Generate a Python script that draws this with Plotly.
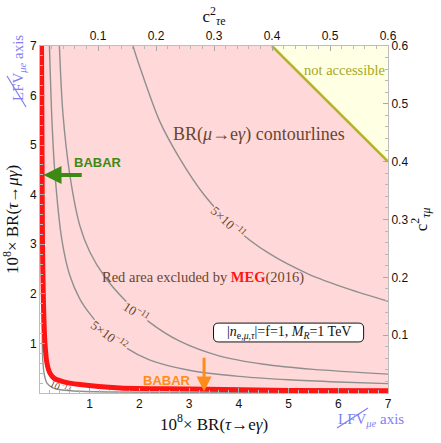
import plotly.graph_objects as go

# ---------------- data ----------------
# BR(mu->e gamma) contour lines, in units of 1e-8 BR(tau->e gamma) / 1e-8 BR(tau->mu gamma)
c5e11_x = [1.87, 2.0, 2.4, 2.8, 3.3, 3.9, 4.6, 5.4, 6.2, 7.0]
c5e11_y = [7.0, 6.6, 5.5, 4.75, 4.0, 3.35, 2.82, 2.4, 2.1, 1.85]

c1e11_x = [0.39, 0.46, 0.6, 0.8, 1.0, 1.3, 1.7, 2.2, 2.8, 3.6, 4.5, 5.5, 7.0]
c1e11_y = [7.0, 5.65, 4.4, 3.38, 2.85, 2.35, 1.88, 1.43, 1.05, 0.75, 0.58, 0.476, 0.38]

c5e12_x = [0.19, 0.24, 0.3, 0.44, 0.6, 0.8, 1.0, 1.3, 1.7, 2.2, 3.0, 4.0, 5.0, 6.0, 7.0]
c5e12_y = [7.0, 5.5, 4.43, 3.09, 2.37, 1.9, 1.6, 1.25, 0.93, 0.67, 0.46, 0.335, 0.266, 0.222, 0.19]

c1e13_x = [0.035, 0.04, 0.046, 0.06, 0.09, 0.14, 0.25, 0.45, 0.8, 1.5, 3.0, 7.0]
c1e13_y = [7.0, 3.0, 1.0, 0.6, 0.35, 0.2, 0.11, 0.06, 0.035, 0.02, 0.01, 0.005]

# MEG (2016) bound
meg_x = [0.03, 0.04, 0.05, 0.07, 0.1, 0.14, 0.2, 0.28, 0.46, 0.8, 1.6, 3.0, 5.0, 7.0]
meg_y = [7.0, 5.0, 3.0, 1.8, 1.0, 0.6, 0.4, 0.3, 0.23, 0.17, 0.1, 0.08, 0.05, 0.045]

# BABAR bounds (1e-8 units)
babar_tau_mu = 4.4
babar_tau_e = 3.3

# not-accessible region, in c^2 coordinates (c_te^2 + c_tm^2 >= 1)
na_cte = [0.4, 0.6, 0.6]
na_ctm = [0.6, 0.4, 0.6]

x_ticks = [1, 2, 3, 4, 5, 6, 7]
y_ticks = [1, 2, 3, 4, 5, 6, 7]
c_ticks = [0.1, 0.2, 0.3, 0.4, 0.5, 0.6]

contour_labels = ["5×10<sup>−11</sup>", "10<sup>−11</sup>", "5×10<sup>−12</sup>", "10<sup>−13</sup>"]

# ---------------- styling ----------------
W, H = 441, 443
ML, MR, MT, MB = 40, 53, 46, 50
PW, PH = W - ML - MR, H - MT - MB


def px(x):
    return (x - ML) / PW


def py(y):
    return 1 - (y - MT) / PH


PINK = "#FFD9D9"
GRAY = "#8F8F8F"
BROWN = "#6A4630"
SERIF = "Liberation Serif"
SANS = "Liberation Sans"
LFV = "#7F7FF2"

fig = go.Figure()

# excluded (pink) region: outside the MEG curve
fig.add_trace(go.Scatter(
    x=meg_x + [7.0], y=meg_y + [7.0], mode="lines", fill="toself",
    fillcolor=PINK, line=dict(width=0), hoverinfo="skip", showlegend=False))

for cx, cy in [(c5e11_x, c5e11_y), (c1e11_x, c1e11_y), (c5e12_x, c5e12_y), (c1e13_x, c1e13_y)]:
    fig.add_trace(go.Scatter(x=cx, y=cy, mode="lines",
                             line=dict(color=GRAY, width=1.4, shape="spline", smoothing=0.8),
                             hoverinfo="skip", showlegend=False))

fig.add_trace(go.Scatter(x=meg_x, y=meg_y, mode="lines",
                         line=dict(color="#FF1414", width=5, shape="spline", smoothing=0.8),
                         hoverinfo="skip", showlegend=False))

# not accessible region on the c^2 axes
fig.add_trace(go.Scatter(x=na_cte, y=na_ctm, xaxis="x2", yaxis="y2", mode="lines",
                         fill="toself", fillcolor="#FFFFE3", line=dict(width=0),
                         hoverinfo="skip", showlegend=False))
fig.add_trace(go.Scatter(x=na_cte[:2], y=na_ctm[:2], xaxis="x2", yaxis="y2", mode="lines",
                         line=dict(color="#B4B42A", width=2.6),
                         hoverinfo="skip", showlegend=False))

axis_common = dict(showgrid=False, zeroline=False, showline=True, linecolor="#BDBDBD",
                   linewidth=1, ticks="inside", ticklen=5, tickcolor="#A8A8A8",
                   automargin=False,
                   tickfont=dict(family=SANS, size=12, color="#111"))
minor_main = dict(dtick=0.2, tick0=0, ticks="inside", ticklen=3, tickcolor="#B8B8B8")
minor_c = dict(dtick=0.02, tick0=0, ticks="inside", ticklen=3, tickcolor="#B8B8B8")
title_font = dict(family=SERIF, size=17, color="#111")

fig.update_layout(
    width=W, height=H,
    margin=dict(l=ML, r=MR, t=MT, b=MB, autoexpand=False),
    paper_bgcolor="white", plot_bgcolor="white",
    showlegend=False,
    xaxis=dict(range=[0, 7], tickvals=x_ticks, side="bottom", minor=minor_main,
               title=dict(text="10<sup>8</sup>× BR(<i>τ</i>→e<i>γ</i>)", font=title_font, standoff=6),
               **axis_common),
    yaxis=dict(range=[0, 7], tickvals=y_ticks, minor=minor_main,
               title=dict(text="10<sup>8</sup>× BR(<i>τ</i>→<i>μγ</i>)", font=title_font, standoff=7),
               **axis_common),
    xaxis2=dict(range=[0, 0.6], tickvals=c_ticks, overlaying="x", side="top", minor=minor_c,
                title=dict(text="c<sup>2</sup><sub><i>τ</i>e</sub>", font=title_font, standoff=2),
                **axis_common),
    yaxis2=dict(range=[0, 0.6], tickvals=c_ticks, overlaying="y", side="right", minor=minor_c,
                title=dict(text="c<sup>2</sup><sub><i>τμ</i></sub>", font=title_font, standoff=2),
                **axis_common),
)

ann = []
# texts
ann.append(dict(x=4.4, y=5.22, text="BR(<i>μ</i>→e<i>γ</i>) contourlines", showarrow=False,
                font=dict(family=SERIF, size=18, color=BROWN)))
ann.append(dict(x=3.27, y=2.33,
                text="Red area excluded by <b><span style='color:#FF1414'>MEG</span></b>(2016)",
                showarrow=False, font=dict(family=SERIF, size=14.5, color=BROWN)))
ann.append(dict(x=6.12, y=6.52, text="not accessible", showarrow=False,
                font=dict(family=SERIF, size=14.5, color="#A8A820")))
# contour labels
lab_pos = [(3.8, 3.45, 42, PINK, 13), (1.95, 1.64, 33, PINK, 13),
           (1.4, 1.17, 37, PINK, 13), (0.42, 0.13, 25, "rgba(0,0,0,0)", 10)]
for t, (lx, ly, ang, bg, fs) in zip(contour_labels, lab_pos):
    ann.append(dict(x=lx, y=ly, text=t, showarrow=False, textangle=ang, bgcolor=bg,
                    borderpad=0, font=dict(family=SERIF, size=fs, color=BROWN)))
# info box
ann.append(dict(x=5.0, y=1.22, text="|<i>n</i><sub>e,<i>μ</i>,<i>τ</i></sub>|=f=1, <i>M</i><sub><i>R</i></sub>=1 TeV",
                showarrow=False, font=dict(family=SERIF, size=14, color="#111")))
# BABAR
ann.append(dict(x=1.17, y=4.64, text="<b>BABAR</b>", showarrow=False,
                font=dict(family=SANS, size=13, color="#3C8A14")))
ann.append(dict(x=0.07, y=babar_tau_mu, ax=0.87, ay=babar_tau_mu, axref="x", ayref="y",
                text="", showarrow=True, arrowhead=2, arrowsize=0.9, arrowwidth=4,
                arrowcolor="#3C8A14", standoff=0))
ann.append(dict(x=2.56, y=0.25, text="<b>BABAR</b>", showarrow=False,
                font=dict(family=SANS, size=13, color="#FF8C1A")))
ann.append(dict(x=babar_tau_e, y=0.03, ax=babar_tau_e, ay=0.74, axref="x", ayref="y",
                text="", showarrow=True, arrowhead=2, arrowsize=1.0, arrowwidth=3,
                arrowcolor="#FF8C1A", standoff=0))
# LFV axis labels
ann.append(dict(xref="paper", yref="paper", x=px(371), y=py(420), xanchor="center", yanchor="middle",
                text="LFV<sub><i>μe</i></sub> axis", showarrow=False,
                font=dict(family=SERIF, size=15, color=LFV)))
ann.append(dict(xref="paper", yref="paper", x=px(19), y=py(68), textangle=-90,
                xanchor="center", yanchor="middle",
                text="LFV<sub><i>μe</i></sub> axis", showarrow=False,
                font=dict(family=SERIF, size=15, color=LFV)))
fig.update_layout(annotations=ann)

# rounded box around the info text
x0, x1, y0, y1, r, rv = 3.49, 6.51, 1.03, 1.41, 0.1, 0.1
path = (f"M {x0+r},{y0} L {x1-r},{y0} Q {x1},{y0} {x1},{y0+rv} L {x1},{y1-rv} "
        f"Q {x1},{y1} {x1-r},{y1} L {x0+r},{y1} Q {x0},{y1} {x0},{y1-rv} "
        f"L {x0},{y0+rv} Q {x0},{y0} {x0+r},{y0} Z")
shapes = [dict(type="path", path=path, xref="x", yref="y", fillcolor="white",
               line=dict(color="#111", width=1), layer="above")]
# strike-through lines over "LFV"
shapes.append(dict(type="line", xref="paper", yref="paper", x0=px(337), y0=py(428),
                   x1=px(368), y1=py(408), line=dict(color=LFV, width=1.2)))
shapes.append(dict(type="line", xref="paper", yref="paper", x0=px(26), y0=py(107),
                   x1=px(7), y1=py(76), line=dict(color=LFV, width=1.2)))
fig.update_layout(shapes=shapes)

fig.write_html("out.html", config={"displayModeBar": False},
               post_script="document.body.style.margin='0';document.body.style.overflow='hidden';")
